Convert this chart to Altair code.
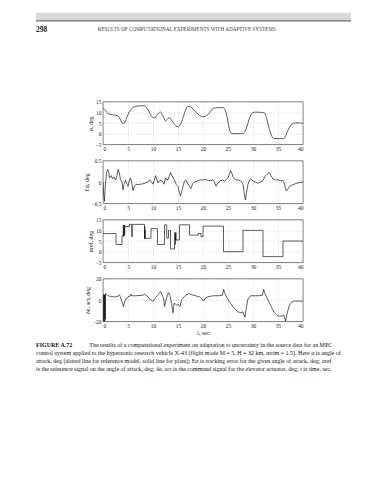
import altair as alt
import pandas as pd

# ---------------- data ----------------
T_ALPHA = [0, 0.5, 1, 1.5, 2, 2.5, 3, 3.5, 4, 4.5, 5, 5.5, 6, 7, 8, 8.5, 9, 9.5, 10, 10.5,
           11, 11.5, 12, 12.5, 13, 13.3, 13.8, 14.5, 15, 15.5, 16, 16.5, 17, 17.5, 18, 18.5,
           19, 19.5, 20, 20.5, 21, 21.5, 22, 23, 24, 24.3, 24.8, 25.2, 25.6, 26, 27.5, 28,
           28.5, 29, 29.5, 30, 30.3, 31, 31.5, 32.3, 32.8, 33.3, 33.8, 34.2, 35, 36, 36.3,
           36.8, 37.3, 37.8, 38.3, 39, 40]
ALPHA = [12, 10.8, 9.5, 9, 8.8, 8.7, 8.3, 6.5, 4.6, 6, 9, 11, 12.3, 13, 13.1, 12.8, 11.2, 9, 7.6, 7.8,
         9.4, 10.2, 8.3, 6, 7.2, 7.5, 6, 3.8, 3.3, 4.5, 7.5, 11, 12.8, 12.6, 11.5, 10.3,
         9.2, 8.3, 8, 8.2, 9, 10.5, 11.8, 12.2, 12.2, 11.8, 8, 3, 0.3, 0, 0, 0.2,
         1.5, 5, 8.5, 9.8, 10.1, 10.1, 10, 9.8, 6.5, 2, -1.3, -2.2, -2.3, -2.3, -2,
         0.5, 3, 4.5, 5, 5.1, 4.8]

T_ERR = [0, 0.15, 0.3, 0.45, 0.7, 0.9, 1.1, 1.3, 1.6, 1.9, 2.2, 2.5, 2.8, 3.0, 3.2, 3.5, 3.8,
         4.0, 4.2, 4.5, 4.8, 5.0, 5.3, 5.5, 5.8, 6.0, 6.3, 6.6, 7.0, 8.0, 8.5, 9.0, 9.3, 9.6,
         10.0, 10.3, 10.5, 10.8, 11.0, 11.3, 11.6, 12.0, 12.2, 12.5, 12.8, 13.0, 13.3, 13.5,
         13.8, 14.0, 14.3, 14.6, 15.0, 15.3, 15.5, 15.7, 16.0, 16.3, 16.6, 17.0, 17.3, 17.6,
         17.9, 18.3, 19.0, 19.5, 20.0, 20.5, 21.0, 21.5, 22.0, 22.3, 22.6, 23.0, 23.5, 24.0,
         24.3, 24.6, 25.0, 25.3, 25.5, 25.8, 26.0, 26.5, 27.0, 27.5, 28.0, 28.3, 28.5, 28.7,
         29.0, 29.3, 29.6, 30.0, 30.5, 31.0, 31.5, 32.0, 32.3, 32.6, 33.0, 33.3, 33.6, 34.0,
         34.5, 35.0, 35.5, 36.0, 36.3, 36.6, 36.9, 37.3, 38.0, 39.0, 40.0]
ERR = [0.0, -0.3, -0.45, -0.1, 0.2, 0.3, 0.25, 0.1, 0.15, 0.08, 0.12, 0.05, 0.15, 0.3, 0.25, 0.05, 0.0,
       -0.18, -0.05, 0.05, -0.05, -0.1, 0.05, 0.1, -0.05, -0.2, -0.1, -0.05, -0.06, -0.04, -0.02, 0.0, 0.05, 0.02,
       -0.05, 0.05, 0.15, 0.05, -0.02, 0.03, 0.05, 0.0, -0.05, 0.1, 0.05, 0.05, 0.15, 0.22,
       0.15, 0.1, 0.05, -0.05, -0.1, -0.25, -0.33, -0.25, -0.1, 0.02, 0.05, -0.05, -0.1, -0.15,
       -0.05, 0.0, 0.03, 0.05, 0.05, 0.06, 0.04, 0.03, 0.05, 0.0, -0.1, -0.02, 0.03, 0.05,
       0.02, 0.05, 0.1, 0.18, 0.27, 0.2, 0.12, 0.05, 0.05, 0.03, -0.05, -0.3, -0.42, -0.25,
       -0.05, 0.05, 0.08, 0.02, 0.0, -0.03, 0.0, 0.03, 0.12, 0.15, 0.2, 0.22, 0.15, 0.07,
       0.05, 0.05, 0.04, 0.03, -0.05, -0.2, -0.18, -0.1, -0.06, -0.02, 0.0]

T_REF = [0, 2.6, 3.8, 4.05, 4.1, 4.15, 4.2, 4.25, 4.3, 4.35, 5.3, 5.75, 5.85, 8.3, 8.33, 8.36,
         8.4, 8.45, 9.6, 10.9, 12.3, 12.75, 13.1, 13.5, 14.3, 14.35, 14.4, 14.45, 14.5, 14.55,
         14.6, 15.3, 17.3, 19.1, 19.6, 20.0, 24.1, 28.0, 32.0, 36.0, 40.0]
REF = [8.5, 3.4, 7.5, 12.5, 7.2, 12.3, 7.5, 12.5, 8, 11.8, 12.8, 7, 12.8, 6.2, 11.8, 6,
       10, 6.3, 10.8, 3.4, 12.6, 6.4, 10, 1.3, 3.4, 9, 3.4, 8, 5.5, 9,
       5.5, 12.6, 7.8, 8.5, 7, 12, 0, 10, -2.3, 5, 5]

T_DELTA = [0, 0.1, 0.15, 0.2, 0.25, 0.3, 0.35, 0.4, 0.45, 0.5, 0.8, 1.0, 1.5, 2.0, 2.5, 3.0, 3.3,
           3.6, 3.9, 4.1, 4.3, 4.6, 5.0, 5.5, 5.6, 5.7, 6.5, 8.0, 8.3, 8.6, 9.0, 9.5, 10.0, 10.5,
           11.0, 11.5, 11.8, 12.1, 12.3, 12.6, 12.9, 13.1, 13.4, 13.7, 14.0, 14.2, 14.5, 14.8,
           15.1, 15.4, 15.7, 16.2, 16.7, 17.2, 17.7, 18.5, 19.3, 19.8, 20.1, 20.5, 21.0, 22.0,
           23.0, 23.9, 24.1, 24.4, 24.8, 25.5, 26.3, 27.0, 27.6, 28.0, 28.2, 28.4, 28.6, 29.0,
           29.5, 30.0, 31.0, 31.9, 32.1, 32.4, 32.8, 33.5, 34.3, 35.0, 35.8, 36.1, 36.3, 36.5,
           36.8, 37.2, 37.7, 38.2, 40.0]
DELTA = [6, 5, -20, 4, -20, 5, -20, 5, -18, 6, 5, 4, 3.5, 3, 3, 3.5, 5,
         1, -3, -6, -2, 1, 3, 4, 5.5, 4, 4, 4.5, 5.5, 4.5, 3, 0, -1, 2,
         5, 8, 5, 2, -6, 0, 5, 7, 4, -3, -12, -3, -4, -5,
         -4, -6, 0, 3, 5, 6, 5, 4, 3, 1, -1, 2, 3, 4,
         4, 4.5, 10, 6, 2, -3, -8, -11, -12, -11, -14, -16, -9, 1,
         4, 4, 4, 4.5, 10, 6, 2, -5, -12, -15, -15, -14, -16, -20,
         -13, -6, -2, -1, -1]

X_TICKS = [0, 5, 10, 15, 20, 25, 30, 35, 40]

HEADER_NUM = "298"
HEADER_TXT = "RESULTS OF COMPUTATIONAL EXPERIMENTS WITH ADAPTIVE SYSTEMS"
CAP_BOLD = "FIGURE A.72"
CAP_L1 = "The results of a computational experiment on adaptation to uncertainty in the source data for an MPC"
CAP_REST = ("control system applied to the hypersonic research vehicle X-43 (flight mode M = 5, H = 32 km, \u03b1trim = 1.5). Here \u03b1 is angle of\n"
            "attack, deg (dotted line for reference model, solid line for plant); E\u03b1 is tracking error for the given angle of attack, deg; \u03b1ref\n"
            "is the reference signal on the angle of attack, deg; \u03b4e, act is the command signal for the elevator actuator, deg; t is time, sec.")

FONT = "Liberation Serif"
W = 200
H = 42.7
LINE_COLOR = "#1a1a1a"
ZERO_LABEL = "datum.value == 0 ? '0' : datum.label"


def panel(t, v, ydom, yticks, ytitle, interp="linear", xtitle=None):
    df = pd.DataFrame({"t": t, "v": v})
    xaxis = alt.Axis(values=X_TICKS, labelFontSize=5.5, labelPadding=2,
                     title=xtitle, titleFontSize=6, titlePadding=1, titleFontWeight="normal",
                     titleFont=FONT, labelFont=FONT)
    return alt.Chart(df).mark_line(color=LINE_COLOR, strokeWidth=0.7, interpolate=interp, clip=True).encode(
        x=alt.X("t:Q", scale=alt.Scale(domain=[0, 40], nice=False), axis=xaxis),
        y=alt.Y("v:Q", scale=alt.Scale(domain=ydom, nice=False),
                axis=alt.Axis(values=yticks, labelExpr=ZERO_LABEL, labelFontSize=5.5, labelPadding=2,
                              title=ytitle, titleFontSize=6, titlePadding=2, titleFontWeight="normal",
                              titleFont=FONT, labelFont=FONT)),
    ).properties(width=W, height=H)


one = pd.DataFrame({"k": [0]})

band = alt.Chart(one).mark_rect(color="#d9d9d9").encode(
    x=alt.value(-67), x2=alt.value(248), y=alt.value(-89), y2=alt.value(-81.3))
hline = alt.Chart(one).mark_rule(color="#4a4a4a", strokeWidth=1).encode(
    x=alt.value(-67), x2=alt.value(248), y=alt.value(-80.8))
hnum = alt.Chart(one).mark_text(align="left", baseline="alphabetic", font=FONT, fontSize=7.5,
                                fontWeight="bold", color="#222").encode(
    x=alt.value(-67), y=alt.value(-70), text=alt.value(HEADER_NUM))
htxt = alt.Chart(one).mark_text(align="left", baseline="alphabetic", font=FONT, fontSize=5.2,
                                color="#444").encode(
    x=alt.value(-5.3), y=alt.value(-70.3), text=alt.value(HEADER_TXT))

p1 = alt.layer(band, hline, hnum, htxt,
               panel(T_ALPHA, ALPHA, [-5, 15], [-5, 0, 5, 10, 15], "\u03b1, deg", interp="monotone"))
p2 = panel(T_ERR, ERR, [-0.5, 0.5], [-0.5, 0, 0.5], "E\u03b1, deg")
p3 = panel(T_REF, REF, [-5, 15], [-5, 0, 5, 10, 15], "\u03b1ref, deg", interp="step-after")

cap_b = alt.Chart(one).mark_text(align="left", baseline="alphabetic", font=FONT, fontSize=6,
                                 fontWeight="bold", color="#111").encode(
    x=alt.value(-67), y=alt.value(68.7), text=alt.value(CAP_BOLD))
cap_1 = alt.Chart(one).mark_text(align="left", baseline="alphabetic", font=FONT, fontSize=6,
                                 color="#111").encode(
    x=alt.value(-13.7), y=alt.value(68.7), text=alt.value(CAP_L1))
cap_r = alt.Chart(one).mark_text(align="left", baseline="alphabetic", font=FONT, fontSize=6,
                                 color="#111", lineBreak="\n", lineHeight=7.9).encode(
    x=alt.value(-67), y=alt.value(76.6), text=alt.value(CAP_REST))

p4 = alt.layer(panel(T_DELTA, DELTA, [-20, 20], [-20, 0, 20], "\u03b4e, act, deg", xtitle="t, sec"),
               cap_b, cap_1, cap_r)

chart = alt.vconcat(p1, p2, p3, p4, spacing=16, bounds="flush").properties(
    padding={"left": 35, "top": 11.7, "right": 5, "bottom": 5},
    background="white",
).configure_view(stroke="#333", strokeWidth=0.6).configure_axis(
    ticks=False, domain=False, grid=True, gridColor="#b5b5b5", gridDash=[1, 1.5], gridWidth=0.5,
    labelColor="#222", titleColor="#222",
)

chart.save("out.html", embed_options={"renderer": "svg", "actions": False})
